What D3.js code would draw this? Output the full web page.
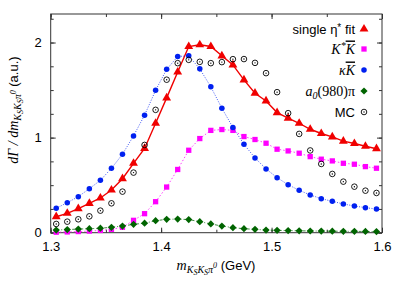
<!DOCTYPE html>
<html>
<head>
<meta charset="utf-8">
<script src="https://cdn.jsdelivr.net/npm/d3@7"></script>
<style>
  body { margin: 0; background: #fff; }
  text { font-family: "Liberation Sans", Arial, sans-serif; }
  .math { font-family: "Liberation Serif", "Times New Roman", serif; font-style: italic; }
</style>
</head>
<body>
<div id="chart"></div>
<script>
// bin centres (GeV)
const mass = [1.305, 1.315, 1.325, 1.335, 1.345, 1.355, 1.365, 1.375, 1.385, 1.395,
              1.405, 1.415, 1.425, 1.435, 1.445, 1.455, 1.465, 1.475, 1.485, 1.495,
              1.505, 1.515, 1.525, 1.535, 1.545, 1.555, 1.565, 1.575, 1.585, 1.595];

const singleFit = [0.168, 0.204, 0.253, 0.309, 0.365, 0.449, 0.568, 0.730, 0.886, 1.151,
                   1.418, 1.690, 1.958, 1.976, 1.958, 1.860, 1.765, 1.607, 1.467, 1.386,
                   1.263, 1.204, 1.151, 1.088, 1.043, 1.008, 0.963, 0.938, 0.909, 0.883];
const kstarK = [0.005, 0.008, 0.012, 0.017, 0.024, 0.035, 0.057, 0.130, 0.200, 0.326,
                0.480, 0.665, 0.867, 0.990, 1.076, 1.085, 1.076, 1.011, 0.980, 0.941,
                0.878, 0.860, 0.836, 0.800, 0.773, 0.755, 0.730, 0.720, 0.695, 0.678];
const kappaK = [0.257, 0.316, 0.379, 0.463, 0.551, 0.677, 0.825, 1.018, 1.236, 1.497,
                1.718, 1.853, 1.860, 1.723, 1.534, 1.309, 1.107, 0.930, 0.786, 0.671,
                0.579, 0.505, 0.446, 0.397, 0.358, 0.330, 0.302, 0.281, 0.263, 0.249];
const a0pi = [0.028, 0.033, 0.038, 0.042, 0.047, 0.057, 0.070, 0.088, 0.100, 0.126,
              0.141, 0.143, 0.138, 0.116, 0.092, 0.070, 0.053, 0.042, 0.035, 0.028,
              0.025, 0.022, 0.020, 0.018, 0.017, 0.016, 0.015, 0.014, 0.013, 0.012];
const mc = [0.092, 0.116, 0.141, 0.172, 0.232, 0.309, 0.432, 0.632, 0.923, 1.292,
            1.609, 1.783, 1.818, 1.797, 1.783, 1.794, 1.825, 1.826, 1.786, 1.678,
            1.478, 1.257, 1.039, 0.865, 0.723, 0.618, 0.537, 0.484, 0.442, 0.418];

const xTicks = [1.3, 1.4, 1.5, 1.6];
const yTicks = [0, 1, 2];

const width = 407, height = 291;
const margin = { top: 14, right: 25, bottom: 58.3, left: 50.7 };

const svg = d3.select("#chart").append("svg")
  .attr("width", width)
  .attr("height", height);

const x = d3.scaleLinear().domain([1.3, 1.6]).range([margin.left, width - margin.right]);
const y = d3.scaleLinear().domain([0, 2.3]).range([height - margin.bottom, margin.top]);

// minor ticks
const xMinor = d3.range(1.3, 1.6001, 0.05);
const yMinor = d3.range(0, 2.3, 0.25);

const axisColor = "#333";

function drawAxis(axis, transform) {
  const g = svg.append("g").attr("transform", transform).call(axis);
  g.select(".domain").remove();
  g.selectAll("line").attr("stroke", axisColor);
  g.selectAll("text").style("font-size", "13px").attr("fill", "#000");
  return g;
}

const bottomY = height - margin.bottom;
drawAxis(d3.axisBottom(x).tickValues(xMinor).tickSize(-3).tickFormat(""), `translate(0,${bottomY})`);
drawAxis(d3.axisTop(x).tickValues(xMinor).tickSize(-3).tickFormat(""), `translate(0,${margin.top})`);
drawAxis(d3.axisBottom(x).tickValues(xTicks).tickSize(-5).tickPadding(9).tickFormat(d3.format(".1f")), `translate(0,${bottomY})`);
drawAxis(d3.axisTop(x).tickValues(xTicks).tickSize(-5).tickFormat(""), `translate(0,${margin.top})`);

drawAxis(d3.axisLeft(y).tickValues(yMinor).tickSize(-3).tickFormat(""), `translate(${margin.left},0)`);
drawAxis(d3.axisRight(y).tickValues(yMinor).tickSize(-3).tickFormat(""), `translate(${width - margin.right},0)`);
drawAxis(d3.axisLeft(y).tickValues(yTicks).tickSize(-5).tickPadding(9).tickFormat(d3.format("d")), `translate(${margin.left},0)`);
drawAxis(d3.axisRight(y).tickValues(yTicks).tickSize(-5).tickFormat(""), `translate(${width - margin.right},0)`);

// frame
svg.append("rect")
  .attr("x", margin.left).attr("y", margin.top)
  .attr("width", width - margin.left - margin.right)
  .attr("height", height - margin.top - margin.bottom)
  .attr("fill", "none").attr("stroke", axisColor).attr("stroke-width", 1);

const plot = svg.append("g");

const series = [
  { values: singleFit, color: "#f00000", dash: null, width: 1.4, shape: d3.symbolTriangle, size: 34, rot: 0, line: true },
  { values: kstarK, color: "#ff00ff", dash: "1.5,2", width: 1, shape: d3.symbolSquare, size: 28, rot: 0, line: true },
  { values: kappaK, color: "#0020f0", dash: "1,1.5", width: 1, shape: d3.symbolCircle, size: 24, rot: 0, line: true },
  { values: a0pi, color: "#006400", dash: "3,2,1,2", width: 1, shape: d3.symbolSquare, size: 26, rot: 45, line: true },
  { values: mc, color: "#000", dash: null, width: 1, shape: null, size: 0, rot: 0, line: false }
];

const line = d3.line().x((d, i) => x(mass[i])).y(d => y(d));

series.forEach(s => {
  if (s.line) {
    plot.append("path")
      .datum(s.values)
      .attr("d", line)
      .attr("fill", "none")
      .attr("stroke", s.color)
      .attr("stroke-width", s.width)
      .attr("stroke-dasharray", s.dash)
      .attr("opacity", s.dash ? 0.75 : 1);
  }
  if (s.shape) {
    plot.selectAll(null)
      .data(s.values)
      .enter()
      .append("path")
      .attr("transform", (d, i) => `translate(${x(mass[i])},${y(d)}) rotate(${s.rot})`)
      .attr("d", d3.symbol().type(s.shape).size(s.size))
      .attr("fill", s.color);
  } else {
    const mcg = plot.selectAll(null)
      .data(s.values)
      .enter()
      .append("g")
      .attr("transform", (d, i) => `translate(${x(mass[i])},${y(d)})`);
    mcg.append("circle").attr("r", 2.8).attr("fill", "none").attr("stroke", "#000").attr("stroke-width", 0.9);
    mcg.append("circle").attr("r", 0.7).attr("fill", "#000");
  }
});

// legend
const legendX = 355, symX = 364;
const legendY = [29, 49, 70, 91, 112];

const leg = svg.append("g");
function legendText(i) {
  return leg.append("text")
    .attr("x", legendX)
    .attr("y", legendY[i] + 4.5)
    .attr("text-anchor", "end")
    .style("font-size", "13px");
}

let t = legendText(0);
t.append("tspan").text("single η");
t.append("tspan").attr("dy", -3).style("font-size", "10px").text("*");
t.append("tspan").attr("dy", 3).text(" fit");

t = legendText(1).attr("class", "math").style("font-size", "14px");
t.append("tspan").text("K");
t.append("tspan").attr("dy", -5).style("font-size", "10px").text("*");
t.append("tspan").attr("dy", 5).style("text-decoration", "overline").text("K");

t = legendText(2).attr("class", "math").style("font-size", "14px");
t.append("tspan").text("κ");
t.append("tspan").style("text-decoration", "overline").text("K");

t = legendText(3).attr("class", "math").style("font-size", "14px");
t.append("tspan").text("a");
t.append("tspan").attr("dy", 3).style("font-size", "10px").text("0");
t.append("tspan").attr("dy", -3).style("font-style", "normal").text("(980)π");

legendText(4).text("MC");

const legendShapes = [
  { shape: d3.symbolTriangle, size: 34, rot: 0, color: "#f00000" },
  { shape: d3.symbolSquare, size: 28, rot: 0, color: "#ff00ff" },
  { shape: d3.symbolCircle, size: 24, rot: 0, color: "#0020f0" },
  { shape: d3.symbolSquare, size: 26, rot: 45, color: "#006400" }
];
legendShapes.forEach((s, i) => {
  leg.append("path")
    .attr("transform", `translate(${symX},${legendY[i]}) rotate(${s.rot})`)
    .attr("d", d3.symbol().type(s.shape).size(s.size))
    .attr("fill", s.color);
});
leg.append("circle").attr("cx", symX).attr("cy", legendY[4]).attr("r", 2.8)
  .attr("fill", "none").attr("stroke", "#000").attr("stroke-width", 0.9);
leg.append("circle").attr("cx", symX).attr("cy", legendY[4]).attr("r", 0.7).attr("fill", "#000");

// x axis title
const xt = svg.append("text")
  .attr("x", 216).attr("y", 270)
  .attr("text-anchor", "middle")
  .style("font-size", "13px");
xt.append("tspan").attr("class", "math").style("font-size", "14px").text("m");
xt.append("tspan").attr("class", "math").attr("dy", 3).style("font-size", "10px").text("K");
xt.append("tspan").attr("class", "math").attr("dy", 2).style("font-size", "8px").text("S");
xt.append("tspan").attr("class", "math").attr("dy", -2).style("font-size", "10px").text("K");
xt.append("tspan").attr("class", "math").attr("dy", 2).style("font-size", "8px").text("S");
xt.append("tspan").attr("class", "math").attr("dy", -2).style("font-size", "10px").text("π");
xt.append("tspan").attr("class", "math").attr("dy", -5).style("font-size", "8px").text("0");
xt.append("tspan").attr("dy", 2).text(" (GeV)");

// y axis title
const yt = svg.append("text")
  .attr("transform", "translate(18,110) rotate(-90)")
  .attr("text-anchor", "middle")
  .style("font-size", "13px");
yt.append("tspan").attr("class", "math").style("font-size", "14px").text("dΓ / dm");
yt.append("tspan").attr("class", "math").attr("dy", 3).style("font-size", "10px").text("K");
yt.append("tspan").attr("class", "math").attr("dy", 2).style("font-size", "8px").text("S");
yt.append("tspan").attr("class", "math").attr("dy", -2).style("font-size", "10px").text("K");
yt.append("tspan").attr("class", "math").attr("dy", 2).style("font-size", "8px").text("S");
yt.append("tspan").attr("class", "math").attr("dy", -2).style("font-size", "10px").text("π");
yt.append("tspan").attr("class", "math").attr("dy", -5).style("font-size", "8px").text("0");
yt.append("tspan").attr("dy", 2).text(" (a.u.)");
</script>
</body>
</html>
